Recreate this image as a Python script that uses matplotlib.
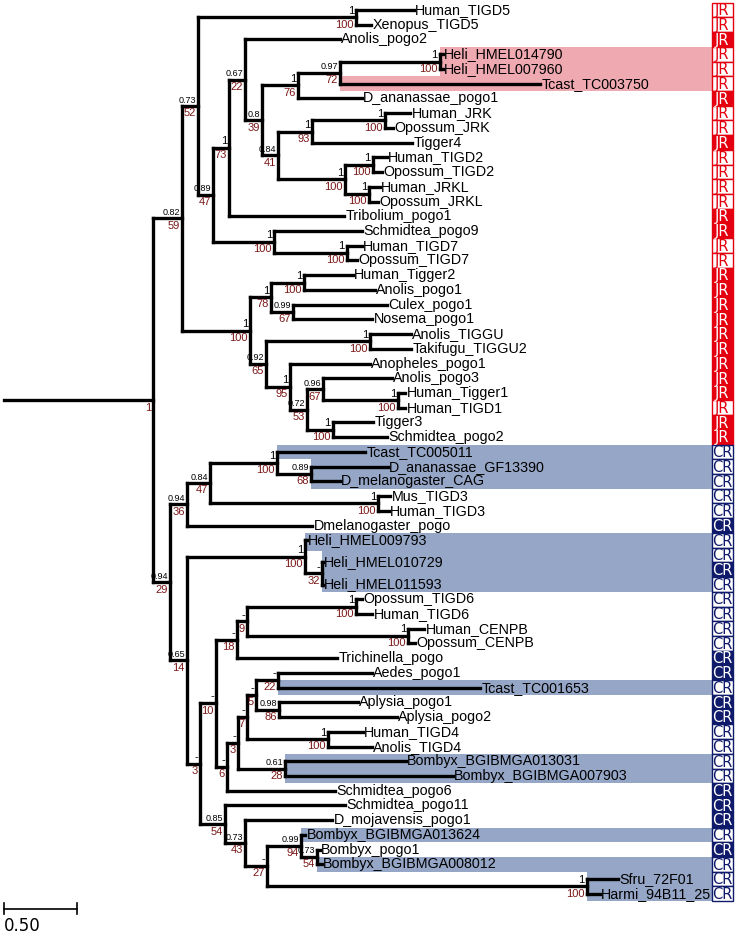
import matplotlib
matplotlib.use("Agg")
import matplotlib.pyplot as plt
from matplotlib.collections import LineCollection
from matplotlib.patches import Rectangle

plt.rcParams['font.family'] = ['Liberation Sans', 'DejaVu Sans']

# internal nodes of the tree (depth = distance from stem base, subst./site)
node_names = ["root", "A", "C", "TIGD5", "D", "E", "G", "H", "I", "K", "L", "J", "M",
              "JRK", "N", "TIGD2", "JRKL", "F", "TIGD7", "O", "P", "TIGGER2", "CULEX",
              "Q", "TIGGU", "R", "S", "T", "TIGGER1", "TIGGER3",
              "U", "V", "X", "Y", "Z", "TIGD3", "W", "HELI", "TT", "BB", "CC", "EE",
              "GG", "TIGD6", "CENPB", "FF", "HH", "II", "KK", "MM", "NN", "TIGD4",
              "JJ", "DD", "OO", "PP", "QQ", "SS", "SFRU"]
node_parents = [None, "root", "A", "C", "C", "D", "E", "G", "H", "I", "K", "H", "J",
                "M", "J", "N", "N", "D", "F", "A", "O", "P", "P",
                "O", "Q", "Q", "R", "S", "T", "S",
                "root", "U", "V", "X", "Y", "X", "U", "W", "HELI", "W", "BB", "CC",
                "EE", "GG", "GG", "CC", "FF", "HH", "II", "KK", "KK", "II",
                "HH", "BB", "DD", "OO", "PP", "QQ", "PP"]
node_depths = [1.021, 1.219, 1.329, 2.411, 1.432, 1.541, 1.651, 1.767, 2.014, 2.301, 2.986, 1.877, 2.110,
               2.610, 2.336, 2.527, 2.500, 1.849, 2.349, 1.685, 1.829, 2.055, 1.979,
               1.795, 2.507, 1.959, 2.075, 2.185, 2.699, 2.253,
               1.137, 1.253, 1.411, 1.870, 2.103, 2.562, 1.253, 2.062, 2.178, 1.342, 1.452, 1.596,
               1.664, 2.411, 2.767, 1.527, 1.603, 1.664, 1.726, 1.877, 1.884, 2.219,
               1.925, 1.514, 1.651, 1.801, 2.034, 2.144, 3.993]
node_post = ["", "0.82", "0.73", "1", "0.89", "1", "0.67", "0.8", "1", "0.97", "1", "0.84", "1",
             "1", "1", "1", "1", "1", "1", "1", "1", "1", "0.99",
             "0.92", "1", "1", "0.72", "0.96", "1", "1",
             "0.94", "0.94", "0.84", "1", "0.89", "1", "0.65", "1", "-", "-", "-", "-",
             "-", "1", "1", "-", "-", "-", "-", "-", "0.98", "1",
             "0.61", "0.85", "0.73", "-", "0.99", "0.73", "1"]
node_boot = ["1", "59", "52", "100", "47", "73", "22", "39", "76", "72", "100", "41", "93",
             "100", "100", "100", "100", "100", "100", "100", "78", "100", "67",
             "65", "100", "95", "53", "67", "100", "100",
             "29", "36", "47", "100", "68", "100", "14", "100", "32", "3", "10", "18",
             "9", "100", "100", "6", "3", "7", "5", "22", "86", "100",
             "28", "54", "43", "27", "94", "54", "100"]

# leaves, top to bottom
leaf_names = ["Human_TIGD5", "Xenopus_TIGD5", "Anolis_pogo2", "Heli_HMEL014790", "Heli_HMEL007960",
              "Tcast_TC003750", "D_ananassae_pogo1", "Human_JRK", "Opossum_JRK", "Tigger4",
              "Human_TIGD2", "Opossum_TIGD2", "Human_JRKL", "Opossum_JRKL", "Tribolium_pogo1",
              "Schmidtea_pogo9", "Human_TIGD7", "Opossum_TIGD7", "Human_Tigger2", "Anolis_pogo1",
              "Culex_pogo1", "Nosema_pogo1", "Anolis_TIGGU", "Takifugu_TIGGU2", "Anopheles_pogo1",
              "Anolis_pogo3", "Human_Tigger1", "Human_TIGD1", "Tigger3", "Schmidtea_pogo2",
              "Tcast_TC005011", "D_ananassae_GF13390", "D_melanogaster_CAG", "Mus_TIGD3", "Human_TIGD3",
              "Dmelanogaster_pogo", "Heli_HMEL009793", "Heli_HMEL010729", "Heli_HMEL011593",
              "Opossum_TIGD6", "Human_TIGD6", "Human_CENPB", "Opossum_CENPB", "Trichinella_pogo",
              "Aedes_pogo1", "Tcast_TC001653", "Aplysia_pogo1", "Aplysia_pogo2", "Human_TIGD4",
              "Anolis_TIGD4", "Bombyx_BGIBMGA013031", "Bombyx_BGIBMGA007903", "Schmidtea_pogo6",
              "Schmidtea_pogo11", "D_mojavensis_pogo1", "Bombyx_BGIBMGA013624", "Bombyx_pogo1",
              "Bombyx_BGIBMGA008012", "Sfru_72F01", "Harmi_94B11_25"]
leaf_parents = ["TIGD5", "TIGD5", "G", "L", "L", "K", "I", "JRK", "JRK", "M",
                "TIGD2", "TIGD2", "JRKL", "JRKL", "E", "F", "TIGD7", "TIGD7", "TIGGER2", "TIGGER2",
                "CULEX", "CULEX", "TIGGU", "TIGGU", "R", "T", "TIGGER1", "TIGGER1", "TIGGER3", "TIGGER3",
                "Y", "Z", "Z", "TIGD3", "TIGD3", "V", "HELI", "TT", "TT",
                "TIGD6", "TIGD6", "CENPB", "CENPB", "EE", "MM", "MM", "NN", "NN", "TIGD4",
                "TIGD4", "JJ", "JJ", "FF", "DD", "OO", "QQ", "SS", "SS", "SFRU", "SFRU"]
leaf_depths = [2.808, 2.514, 2.301, 3.007, 3.007, 3.671, 2.452, 2.781, 2.664, 2.795,
               2.623, 2.589, 2.575, 2.562, 2.329, 2.452, 2.452, 2.418, 2.390, 2.541,
               2.623, 2.521, 2.788, 2.788, 2.507, 2.658, 2.747, 2.747, 2.527, 2.623,
               2.473, 2.630, 2.301, 2.644, 2.637, 2.110, 2.075, 2.185, 2.185,
               2.452, 2.521, 2.877, 2.815, 2.281, 2.521, 3.260, 2.425, 2.692, 2.459,
               2.521, 2.753, 3.075, 2.267, 2.336, 2.247, 2.062, 2.164, 2.178, 4.205, 4.082]

highlight_jr = ["Heli_HMEL014790", "Heli_HMEL007960", "Tcast_TC003750"]
highlight_cr = ["Tcast_TC005011", "D_ananassae_GF13390", "D_melanogaster_CAG",
                "Heli_HMEL009793", "Heli_HMEL010729", "Heli_HMEL011593", "Tcast_TC001653",
                "Bombyx_BGIBMGA013031", "Bombyx_BGIBMGA007903", "Bombyx_BGIBMGA013624",
                "Bombyx_BGIBMGA008012", "Sfru_72F01", "Harmi_94B11_25"]

# right-hand class column (one more cell than leaves)
domain_class = ["JR"] * 30 + ["CR"] * 31
domain_filled = [0, 0, 1, 0, 0, 0, 1, 0, 0, 1, 0, 0, 0, 0, 1, 1, 0, 0, 1, 1,
                 1, 1, 1, 1, 1, 1, 1, 0, 1, 1,
                 0, 0, 0, 0, 0, 1, 0, 0, 1, 0, 0, 0, 0, 0, 1, 1, 0, 1, 1, 0,
                 0, 0, 0, 1, 1, 1, 0, 1, 0, 0, 0]

half_gap_after = ["Heli_HMEL009793", "Heli_HMEL010729"]

JR_RED = "#e4000f"
CR_NAVY = "#0f1a6a"
PINK = "#efa9b1"
BAND_BLUE = "#95a6c6"
BOOT_RED = "#7a1717"

# --- layout ---
leaf_y = {}
row = 0.0
for name in leaf_names:
    leaf_y[name] = row
    row += 1.5 if name in half_gap_after else 1.0

node_depth = dict(zip(node_names, node_depths))
node_depth.update(dict(zip(leaf_names, leaf_depths)))
parent_of = dict(zip(node_names, node_parents))
parent_of.update(dict(zip(leaf_names, leaf_parents)))
children = {n: [] for n in node_names}
for child, par in parent_of.items():
    if par is not None:
        children[par].append(child)

ypos = dict(leaf_y)


def get_y(n):
    if n not in ypos:
        ys = [get_y(c) for c in children[n]]
        ypos[n] = (min(ys) + max(ys)) / 2
    return ypos[n]


for n in node_names:
    get_y(n)

fig = plt.figure(figsize=(7.37, 9.41), dpi=100)
ax = fig.add_axes([0, 0, 1, 1])
ax.set_xlim(-0.0274, 5.021)
ax.set_ylim(63.2, -0.679)
ax.axis("off")

box_x0, box_x1 = 4.849, 4.993

# highlight bands: from the leaf's parent node to the class column
all_rows = [leaf_y[n] for n in leaf_names]
for i, name in enumerate(leaf_names):
    if name in highlight_jr:
        col = PINK
    elif name in highlight_cr:
        col = BAND_BLUE
    else:
        continue
    y = leaf_y[name]
    top = (y + all_rows[i - 1]) / 2 if i > 0 else y - 0.5
    bot = (y + all_rows[i + 1]) / 2 if i < len(all_rows) - 1 else y + 0.5
    top = max(top, y - 0.75)
    bot = min(bot, y + 0.75)
    x0 = node_depth[parent_of[name]]
    ax.add_patch(Rectangle((x0, top), box_x0 - x0, bot - top, facecolor=col,
                           edgecolor="none", zorder=0))

# branches
segs = []
for n, par in parent_of.items():
    if par is None:
        segs.append([(0.0, ypos[n]), (node_depth[n], ypos[n])])
    else:
        segs.append([(node_depth[par], ypos[n]), (node_depth[n], ypos[n])])
for n in node_names:
    ys = [ypos[c] for c in children[n]]
    segs.append([(node_depth[n], min(ys)), (node_depth[n], max(ys))])
ax.add_collection(LineCollection(segs, colors="black", linewidths=2.4,
                                 capstyle="projecting", zorder=2))

# leaf labels
for n in leaf_names:
    ax.annotate(n, (node_depth[n], ypos[n]), xytext=(1, 0), textcoords="offset points",
                ha="left", va="center", fontsize=10.3, color="black", zorder=3)

# support values
for n, post, boot in zip(node_names, node_post, node_boot):
    x, y = node_depth[n], ypos[n]
    if post:
        fs = 6.5 if "." in post else 8
        ax.annotate(post, (x, y), xytext=(-1.5, 1.2), textcoords="offset points",
                    ha="right", va="bottom", fontsize=fs, color="black", zorder=3)
    if boot:
        ax.annotate(boot, (x, y), xytext=(-1.5, -1.6), textcoords="offset points",
                    ha="right", va="top", fontsize=8, color=BOOT_RED, zorder=3)

# class column
for i, (cls, filled) in enumerate(zip(domain_class, domain_filled)):
    col = JR_RED if cls == "JR" else CR_NAVY
    face = col if filled else "white"
    txt = "white" if filled else col
    ax.add_patch(Rectangle((box_x0, i - 0.5), box_x1 - box_x0, 1.0, facecolor=face,
                           edgecolor=col, linewidth=1.0, zorder=4))
    ax.text((box_x0 + box_x1) / 2, i + 0.05, cls, ha="center", va="center",
            fontsize=10.5, color=txt, family="DejaVu Sans", zorder=5)

# scale bar
scale_len = 0.5
sb_y = 61.0
ax.plot([0, scale_len], [sb_y, sb_y], color="black", lw=1.2)
ax.plot([0, 0], [sb_y - 0.35, sb_y + 0.35], color="black", lw=1.2)
ax.plot([scale_len, scale_len], [sb_y - 0.35, sb_y + 0.35], color="black", lw=1.2)
ax.text(0, sb_y + 0.6, f"{scale_len:.2f}", ha="left", va="top", fontsize=12,
        family="DejaVu Sans", color="black")

fig.savefig("out.png", dpi=100)
